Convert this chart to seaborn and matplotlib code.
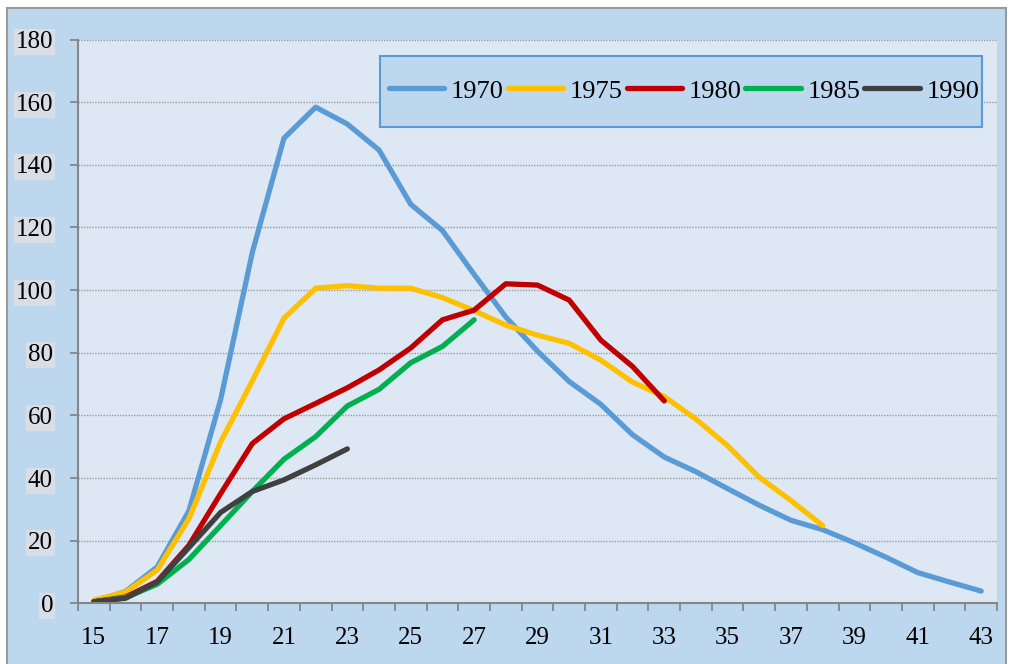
import numpy as np
import pandas as pd
import seaborn as sns
import matplotlib.pyplot as plt
from matplotlib.patches import Rectangle
from matplotlib.ticker import MultipleLocator

ages = list(range(15, 44))
y1970 = [0.5, 3.8, 11.6, 29.5, 65, 112, 148.5, 158.4, 153, 144.7, 127.4, 119, 105, 91.4,
         80.5, 70.8, 63.5, 53.8, 46.7, 42, 36.6, 31.3, 26.5, 23.5, 19.3, 14.7, 9.8, 6.8, 3.9]
y1975 = [1, 3.6, 10.6, 27, 51.5, 71, 91, 100.6, 101.4, 100.6, 100.6, 97.6, 93.4, 88.8,
         85.6, 83, 77.6, 70.6, 66, 58.8, 50.3, 40.2, 32.8, 24.8]
y1980 = [0.5, 2, 7, 18.5, 35, 51, 58.9, 63.8, 68.8, 74.5, 81.5, 90.5, 93.6, 102,
         101.6, 96.8, 84, 75.6, 64.6]
y1985 = [0.5, 1.8, 6.1, 14, 24.8, 35.7, 46, 53.2, 63, 68.3, 76.8, 82, 90.5]
y1990 = [0.5, 1.6, 6.8, 17.8, 29, 35.7, 39.4, 44.2, 49.3]
years = ["1970", "1975", "1980", "1985", "1990"]
colors = ["#5B9BD5", "#FFC000", "#C00000", "#00B050", "#404040"]

frames = []
for yr, vals in zip(years, [y1970, y1975, y1980, y1985, y1990]):
    frames.append(pd.DataFrame({"age": ages[:len(vals)], "value": vals, "year": yr}))
df = pd.concat(frames, ignore_index=True)

plt.rcParams["font.family"] = ["Liberation Serif", "DejaVu Serif"]

fig = plt.figure(figsize=(10.1, 6.64), dpi=100, facecolor="white")
fig.patches.append(Rectangle((7 / 1010, -0.05), 999 / 1010, 1.05 - 8 / 664,
                             transform=fig.transFigure, facecolor="#BDD7EE",
                             edgecolor="#9a9a9a", linewidth=1.5, zorder=-10))
ax = fig.add_axes([78 / 1010, (664 - 603.3) / 664, 919 / 1010, 563.8 / 664])
ax.set_facecolor("#DDE8F4")

sns.lineplot(data=df, x="age", y="value", hue="year", palette=colors, linewidth=3.8,
             ax=ax, solid_capstyle="round")
for line in ax.get_lines():
    line.set_solid_joinstyle("round")

ax.set_xlim(14.5, 43.5)
ax.set_ylim(0, 180)
ax.set_xticks(range(15, 44, 2))
ax.xaxis.set_minor_locator(MultipleLocator(1, offset=0.5))
ax.set_yticks(range(0, 181, 20))
ax.tick_params(axis="x", which="major", length=0, pad=17, labelsize=18)
ax.tick_params(axis="x", which="minor", length=6, width=1.3, color="#868686")
ax.tick_params(axis="y", length=6, width=1.3, color="#868686", pad=12, labelsize=18)
for lab in ax.get_yticklabels():
    lab.set_bbox(dict(facecolor="#D9DEE6", edgecolor="none", pad=1.5))
ax.grid(axis="y", color="#9a9a9a", linestyle=(0, (1, 1)), linewidth=1)
ax.set_axisbelow(True)
for side in ["top", "right"]:
    ax.spines[side].set_visible(False)
for side in ["left", "bottom"]:
    ax.spines[side].set_color("#868686")
    ax.spines[side].set_linewidth(1.5)
ax.set_xlabel("")
ax.set_ylabel("")

# legend box drawn separately (taller than its contents, as in the original)
ax.add_patch(Rectangle((380 / 1010, 1 - 127 / 664), 602 / 1010, 71 / 664,
                       transform=fig.transFigure, facecolor="#BDD7EE",
                       edgecolor="#5B9BD5", linewidth=1.5, zorder=5))
leg = ax.legend(loc="center", bbox_to_anchor=(684 / 1010, 1 - 91 / 664),
                bbox_transform=fig.transFigure, ncol=5, fontsize=19, frameon=False,
                handlelength=2.1, handletextpad=0.25, columnspacing=0.15,
                borderpad=0.2, borderaxespad=0)
leg.set_zorder(6)
for h in leg.get_lines():
    h.set_linewidth(3.8)
    h.set_solid_capstyle("round")

fig.savefig("out.png", dpi=100)
